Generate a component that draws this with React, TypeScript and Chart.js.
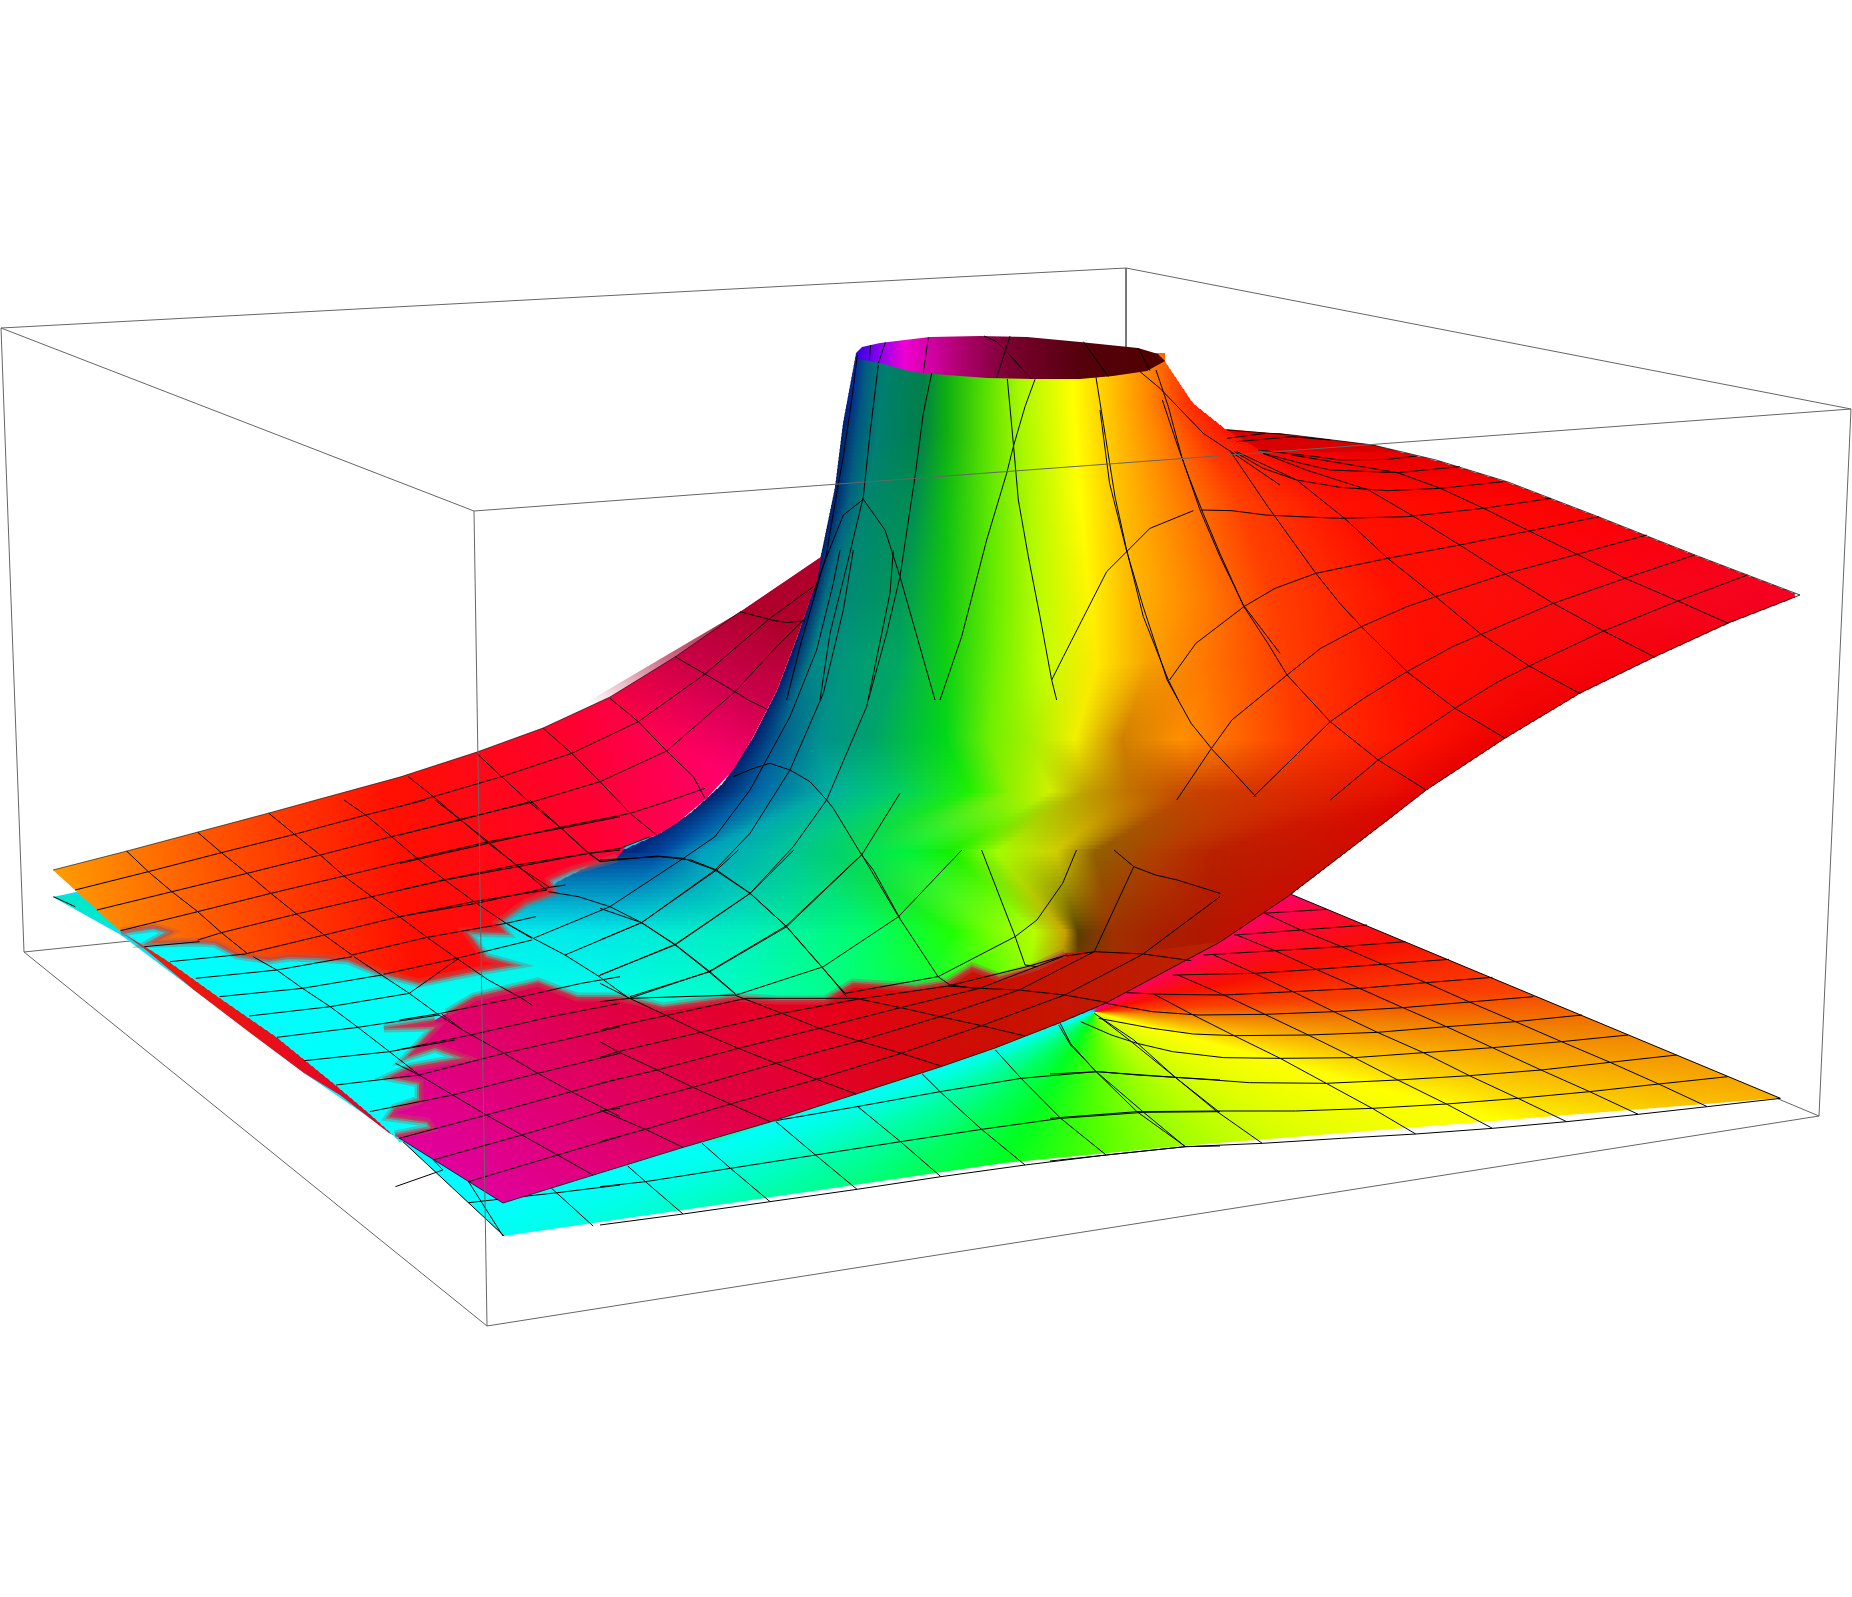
import React, { useEffect, useRef } from "react";
import { Chart, registerables } from "chart.js";
Chart.register(...registerables);

type P = number[];
const crop = (sx: number, sy: number, x0: number, y0: number) => (pts: P[]) =>
  pts.map(([x, y]) => ({ x: x / sx + x0, y: y / sy + y0 }));
const z1 = crop(3, 3, 780, 300);
const z2 = crop(2.529, 3, 0, 800);
const z3 = crop(2.529, 3, 600, 850);
const z4 = crop(2.085, 3, 1100, 400);
const z5 = crop(1.955, 3, 1050, 880);
const z6 = crop(3, 3, 400, 550);
const full = crop(1, 1, 0, 0);

// Bounding box
const boxBack: P[][] = [[[1, 328], [1126, 268], [1851, 409]], [[1126, 268], [1126, 347]], [[24, 952], [130, 941]], [[1819, 1116], [1776, 1098]]];
const boxFront: P[][] = [
  [[1, 328], [474, 511], [1851, 409], [1819, 1116], [487, 1326], [24, 952], [1, 328]],
  [[474, 511], [487, 1326]],
];

// Lower sheet
const lowerOutline: P[] = [[53, 897], [121, 935], [194, 990], [304, 1073], [399, 1138], [504, 1236], [827, 1189], [1004, 1163], [1181, 1146], [1780, 1098], [1290, 894], [1100, 900], [500, 800]];
const lowerHueAngles = [-180, -60, -31, -12.6, -3, 2, 7, 15, 30, 56, 90, 122, 139, 151, 159, 163, 180];
const lowerHueColors = ["#00e8ff", "#ff00a0", "#ff0060", "#f81000", "#f84000", "#f08000", "#f8b000", "#ffff00", "#e0ff00", "#a0ff00", "#50ff00", "#00ff20", "#00ff60", "#00ffaa", "#00ffee", "#00ffff", "#00e8ff"];
const lowerTeal: P[] = [[53, 897], [79, 895], [121, 932]];
const sliverOutline: P[] = [[121, 932], [170, 962], [219, 997], [277, 1037], [336, 1085], [368, 1112], [399, 1138], [389, 1133], [340, 1095], [304, 1073], [249, 1032], [194, 990], [146, 950]];

const lowerMeshZ5: P[][] = [
  [[415, 100], [540, 88]], [[360, 165], [490, 150], [620, 135]], [[300, 225], [440, 212], [570, 200], [695, 185]],
  [[240, 285], [400, 280], [520, 268], [650, 253], [780, 238]], [[150, 338], [220, 343], [340, 345], [475, 335], [605, 325], [735, 308], [865, 292]],
  [[110, 370], [200, 395], [290, 405], [420, 403], [555, 395], [690, 383], [820, 366], [945, 350]],
  [[95, 415], [200, 445], [280, 462], [360, 467], [505, 465], [640, 457], [775, 440], [910, 425], [1040, 405]],
  [[60, 425], [120, 465], [170, 490], [240, 515], [340, 533], [450, 535], [595, 533], [730, 518], [865, 503], [1000, 485], [1130, 465]],
  [[0, 582], [95, 575], [170, 585], [245, 592], [320, 600], [390, 608], [540, 610], [680, 600], [820, 587], [960, 570], [1095, 547], [1225, 525]],
  [[0, 715], [170, 695], [325, 693], [480, 693], [630, 685], [775, 672], [915, 655], [1055, 635], [1190, 612], [1325, 590]],
  [[20, 430], [40, 490], [90, 575], [170, 695], [265, 800]], [[100, 415], [155, 480], [245, 592], [325, 693], [415, 790]],
  [[200, 340], [280, 405], [360, 467], [450, 535], [540, 610], [630, 685], [715, 762]],
  [[250, 285], [340, 345], [420, 403], [505, 465], [595, 533], [680, 600], [775, 672], [865, 745]],
  [[320, 225], [400, 280], [475, 335], [555, 395], [640, 457], [730, 518], [820, 587], [915, 655], [1010, 725]],
  [[365, 165], [440, 212], [520, 268], [605, 325], [690, 383], [775, 440], [865, 503], [960, 570], [1055, 635], [1150, 703]],
  [[420, 100], [490, 150], [570, 200], [650, 253], [735, 308], [820, 366], [910, 425], [1000, 485], [1095, 547], [1190, 612], [1285, 680]],
  [[470, 42], [1428, 655]],
  [[0, 843], [110, 825], [265, 800], [415, 790], [570, 775], [715, 762], [865, 745], [1010, 725], [1150, 703], [1285, 680], [1428, 655]],
];
const lowerMeshZ3: P[][] = [
  [[0, 1010], [115, 995], [330, 955], [545, 915], [760, 875], [965, 838], [1165, 805], [1375, 787], [1568, 785]],
  [[430, 815], [650, 770], [860, 725], [1065, 685], [1255, 665], [1455, 682], [1568, 690]],
  [[70, 948], [115, 995], [210, 1092]], [[258, 880], [330, 955], [430, 1055]], [[445, 815], [545, 915], [650, 1018]],
  [[650, 768], [760, 875], [862, 980]], [[815, 672], [860, 725], [965, 838], [1075, 945]],
  [[1000, 600], [1065, 685], [1165, 805], [1280, 915]], [[1160, 525], [1190, 585], [1255, 665], [1375, 787], [1480, 890]],
  [[1250, 490], [1350, 570], [1455, 682], [1565, 785]],
  [[0, 1125], [210, 1092], [430, 1055], [650, 1018], [862, 980], [1075, 945], [1280, 915], [1480, 890], [1568, 888]],
];
const lowerMeshZ2: P[][] = [
  [[1185, 1145], [1272, 1308]], [[1010, 1015], [1275, 1308]], [[1098, 1082], [1120, 1110], [1000, 1160]], [[1395, 1165], [1500, 1278]],
  [[1185, 1208], [1410, 1178], [1568, 1155]], [[135, 290], [190, 320]],
];

// Sloped surface: row table of hue stops
const rowYs = [353, 403, 431, 500, 595, 660, 737, 790, 850, 930, 1000, 1140];
const rowStopX: number[][] = [
  [856, 868, 885, 925, 947, 985, 1020, 1073, 1113, 1150, 1180, 1200, 1240],
  [848, 862, 880, 922, 947, 985, 1020, 1073, 1113, 1153, 1180, 1197, 1260],
  [842, 858, 878, 920, 947, 985, 1022, 1075, 1115, 1160, 1205, 1250, 1292],
  [833, 848, 865, 915, 947, 990, 1030, 1080, 1120, 1170, 1240, 1340, 1560],
  [812, 825, 845, 900, 946, 995, 1040, 1090, 1130, 1190, 1270, 1400, 1800],
  [790, 813, 850, 900, 947, 997, 1047, 1097, 1150, 1213, 1280, 1400, 1650],
  [753, 777, 817, 867, 945, 990, 1027, 1075, 1122, 1181, 1300, 1417, 1505],
  [716, 760, 830, 900, 970, 1010, 1050, 1085, 1130, 1196, 1292, 1388, 1426],
  [633, 660, 700, 767, 833, 900, 950, 995, 1055, 1094, 1154, 1213, 1330],
  [130, 600, 758, 877, 955, 995, 1035, 1066, 1078, 1114, 1160, 1200, 1235],
  [225, 600, 700, 800, 900, 980, 1020, 1050, 1080, 1110, 1150, 1200, 1250],
  [395, 600, 700, 800, 900, 980, 1020, 1050, 1080, 1110, 1150, 1200, 1250],
];
const rowStopColor: string[][] = [
  ["#0a2a9a", "#00607f", "#007f70", "#008048", "#10b010", "#50e000", "#a8f800", "#ffff00", "#ffc000", "#ff8000", "#ff4000", "#ff2000", "#ff1000"],
  ["#00208a", "#005a80", "#007f70", "#008048", "#10b010", "#58e000", "#a8f800", "#ffff00", "#ffc000", "#ff8000", "#ff4000", "#ff2000", "#ff1000"],
  ["#00206e", "#005a80", "#007f70", "#008048", "#10b010", "#58e000", "#a8f800", "#ffff00", "#ffc000", "#ff8000", "#ff3000", "#f40000", "#e00000"],
  ["#00206e", "#006080", "#008570", "#008e50", "#10c010", "#60e800", "#b0f800", "#ffff00", "#ffc000", "#ff8800", "#ff4000", "#ff1000", "#ff0000"],
  ["#00206e", "#007080", "#008a78", "#009858", "#10c810", "#68ec00", "#bcfc00", "#fff400", "#ffb800", "#ff8800", "#ff4000", "#ff1000", "#f40024"],
  ["#00206e", "#008a88", "#009a78", "#00a860", "#10d010", "#70f000", "#c8ff00", "#ffe800", "#f8a000", "#ff7000", "#ff4000", "#ff1000", "#f4000c"],
  ["#00206e", "#005a90", "#009090", "#00a070", "#00d818", "#70f000", "#a0f000", "#f0f000", "#d08000", "#ff9000", "#ff3800", "#ff1000", "#e80000"],
  ["#00206e", "#006aa8", "#00b0a0", "#00d060", "#20f000", "#90f000", "#d0f000", "#c0a000", "#c07000", "#c84000", "#dc2800", "#e81000", "#e40000"],
  ["#002a80", "#0044a0", "#00a0c0", "#00c0a8", "#00d070", "#00f040", "#10f000", "#a0ff00", "#d0d000", "#906000", "#b04000", "#b82000", "#cc1000"],
  ["#00ffff", "#00e8e8", "#00f0b8", "#00ff60", "#20ff00", "#80ff00", "#b8ff00", "#c8a000", "#5a4000", "#a03000", "#a82000", "#b01800", "#c01000"],
  ["#00ffff", "#00ffe8", "#00ffd0", "#00ffa0", "#00ff60", "#20ff00", "#80ff00", "#a0a000", "#803000", "#a03000", "#a82000", "#b01800", "#c01000"],
  ["#00ffff", "#00ffe8", "#00ffd0", "#00ffa0", "#00ff60", "#20ff00", "#80ff00", "#a0a000", "#803000", "#a03000", "#a82000", "#b01800", "#c01000"],
];
const edgeLeft: P[] = [[353, 856], [423, 843], [487, 835], [550, 822], [593, 812], [637, 797], [690, 777], [737, 753], [783, 723], [813, 690], [833, 660], [860, 600], [880, 560], [913, 510], [930, 121], [962, 170], [997, 219], [1037, 277], [1085, 336], [1112, 368], [1140, 399]];
const edgeRight: P[] = [[353, 1165], [361, 1165], [403, 1193], [430, 1227], [433, 1280], [436, 1300], [445, 1373], [460, 1436], [482, 1508], [517, 1599], [555, 1695], [595, 1800], [623, 1728], [657, 1654], [693, 1580], [738, 1505], [790, 1426], [815, 1394], [897, 1287], [942, 1220], [1003, 1106], [1023, 1059], [1048, 995], [1095, 853], [1122, 770], [1140, 720]];
const backPatch: P[] = [[1227, 430], [1292, 435], [1373, 445], [1400, 452], [1330, 452], [1260, 450]];

// Ring at the top
const ringOutline: P[] = [[856, 353], [862, 347], [880, 343], [930, 337], [980, 336], [1027, 337], [1080, 342], [1138, 348], [1158, 354], [1165, 361], [1147, 371], [1113, 376], [1080, 379], [1033, 379], [987, 378], [947, 375], [913, 372], [880, 363], [858, 359]];
const ringX = [856, 880, 905, 960, 1010, 1080, 1165];
const ringColors = ["#3000e0", "#9000f0", "#f000d0", "#b00070", "#7a0030", "#55000c", "#500000"];

// Back left sheet
const upperEdge: P[] = [[121, 932], [154, 927], [170, 932], [150, 943], [198, 942], [215, 943], [237, 955], [269, 960], [289, 957], [316, 958], [348, 960], [380, 973], [419, 983], [467, 973], [514, 965], [486, 957], [467, 932], [506, 933], [498, 923], [526, 903], [554, 893], [550, 880], [573, 870], [617, 858]];
const towerCurve: P[] = [[627, 845], [657, 835], [677, 823], [707, 798], [733, 770], [753, 737], [777, 690], [797, 637], [817, 580], [821, 557]];
const backEdge: P[] = [[740, 612], [675, 657], [610, 697], [543, 728], [477, 752], [400, 777], [316, 800], [269, 813], [198, 832], [127, 851], [53, 870]];
const pinkShade: P[] = [[543, 728], [740, 612], [821, 557], [817, 580], [797, 637], [777, 690], [753, 737], [733, 770], [640, 790]];

// Front flap
const midEdge: P[] = [[447, 1013], [474, 997], [538, 982], [577, 997], [620, 997], [663, 1007], [734, 997], [778, 1000], [825, 1000], [853, 983], [916, 987], [948, 982], [972, 967], [999, 977], [1035, 967], [1065, 953]];
const flapRest: P[] = [[1090, 952], [1144, 952], [1220, 942], [1106, 1003], [1059, 1023], [995, 1048], [940, 1067], [853, 1095], [770, 1122], [681, 1148], [600, 1173], [503, 1203], [399, 1138]];
const flapLeft: P[] = [[395, 1135], [431, 1128], [427, 1122], [389, 1117], [395, 1108], [419, 1100], [419, 1083], [389, 1077], [411, 1067], [463, 1058], [435, 1048], [407, 1057], [435, 1027], [384, 1028], [435, 1020]];

// Mesh of the upper surface
const meshZ1: P[][] = [
  [[232, 165], [215, 300], [190, 470], [170, 580], [140, 760], [100, 900], [60, 1040], [20, 1200]],
  [[295, 195], [270, 400], [250, 590], [200, 800], [150, 1000], [120, 1200]],
  [[455, 220], [430, 340], [405, 530], [360, 830], [320, 1000], [265, 1200]],
  [[682, 237], [700, 430], [715, 600], [745, 770], [780, 950], [815, 1140], [830, 1200]],
  [[765, 238], [735, 320], [700, 440], [680, 520], [620, 720], [545, 1010], [480, 1200]],
  [[948, 232], [970, 370], [1005, 590], [1040, 750], [1090, 950], [1165, 1140], [1195, 1200]],
  [[1128, 210], [1165, 320], [1205, 470], [1260, 630], [1320, 770], [1390, 915], [1500, 1060]],
  [[1080, 215], [1140, 265], [1270, 400], [1360, 460], [1500, 555]],
  [[100, 880], [140, 770], [190, 645], [250, 598], [315, 690], [360, 830], [465, 1200]],
  [[815, 1140], [850, 1070], [980, 815], [1110, 685], [1240, 632]],
  [[272, 135], [268, 180]], [[316, 127], [295, 190]], [[445, 112], [430, 218]],
  [[612, 108], [650, 125], [680, 155], [725, 205], [755, 237]], [[690, 108], [675, 155], [650, 233]],
  [[910, 125], [985, 230]], [[1075, 145], [1110, 212]],
];
const meshZ4: P[][] = [
  [[265, 115], [345, 100]], [[285, 125], [400, 110], [480, 120]], [[330, 150], [450, 170], [500, 180], [600, 178], [660, 168]],
  [[340, 160], [420, 190], [480, 210], [620, 218], [750, 200]], [[280, 155], [340, 205], [410, 240], [500, 262], [600, 272], [710, 265], [840, 245]],
  [[210, 330], [275, 332], [345, 345], [415, 350], [500, 355], [640, 350], [800, 325], [940, 295]],
  [[145, 840], [200, 730], [300, 620], [365, 565], [450, 520], [600, 475], [750, 435], [895, 393], [1040, 350]],
  [[160, 1200], [230, 1050], [275, 960], [390, 825], [460, 745], [545, 680], [640, 620], [700, 590], [845, 522], [995, 463], [1140, 405]],
  [[320, 1190], [480, 965], [550, 895], [640, 815], [735, 740], [795, 703], [945, 610], [1095, 535], [1240, 465]],
  [[480, 1200], [580, 1080], [740, 925], [830, 845], [895, 798], [1050, 693], [1205, 603], [1350, 525]],
  [[130, 0], [160, 130], [185, 230], [215, 340], [250, 460], [300, 620], [350, 730], [390, 825], [480, 965], [580, 1080], [680, 1170]],
  [[270, 150], [350, 320], [450, 520], [500, 610], [545, 680], [640, 815], [740, 925], [845, 1015]],
  [[285, 155], [410, 240], [510, 355], [600, 475], [700, 590], [795, 703], [895, 798], [1000, 880]],
  [[340, 160], [430, 210], [560, 270], [655, 350], [750, 435], [845, 522], [945, 610], [1050, 693], [1155, 770]],
  [[400, 165], [620, 218], [710, 265], [800, 325], [895, 393], [995, 463], [1095, 535], [1205, 603], [1310, 670]],
  [[0, 30], [20, 250], [55, 450], [90, 620], [140, 840], [190, 970], [235, 1050], [325, 1190]],
];
const meshZ3: P[][] = [
  [[0, 400], [75, 445], [165, 495], [255, 547], [350, 595], [445, 640], [548, 688], [648, 732]],
  [[340, 435], [460, 490], [555, 535], [655, 573], [762, 610], [862, 648]],
  [[655, 447], [760, 473], [860, 500], [965, 527], [1075, 558]],
  [[880, 408], [960, 415], [1060, 420], [1175, 435], [1285, 458]],
  [[1180, 318], [1250, 305], [1375, 312], [1495, 332]],
  [[0, 575], [45, 605], [145, 660], [235, 712], [330, 762], [430, 815]],
  [[0, 780], [115, 838], [210, 892]],
  [[0, 875], [115, 838], [330, 762], [548, 688], [762, 610], [965, 527], [1175, 435], [1370, 315], [1568, 140]],
  [[0, 785], [235, 712], [445, 640], [655, 573], [860, 500], [1060, 420], [1250, 305], [1350, 50]],
  [[0, 700], [145, 660], [350, 595], [555, 535], [760, 473], [960, 415], [1170, 320]],
  [[0, 622], [45, 605], [255, 547], [460, 490], [655, 447], [880, 408], [1080, 350], [1180, 315]],
  [[0, 540], [165, 497], [370, 445], [655, 445]],
  [[0, 455], [75, 445], [340, 435]],
  [[0, 175], [105, 218], [190, 285], [275, 365], [345, 435]],
  [[0, 30], [150, 20], [230, 30], [295, 60], [380, 130], [470, 228], [560, 350], [620, 430]],
  [[660, 10], [700, 90], [755, 200], [855, 380], [885, 405], [950, 415]],
  [[965, 0], [1050, 260], [1075, 345], [1105, 350]],
  [[0, 270], [105, 218], [295, 60], [350, 0]], [[0, 375], [190, 285], [380, 130], [490, 0]],
  [[75, 445], [275, 365], [470, 228], [665, 10]], [[345, 435], [565, 350], [755, 200], [915, 0]],
  [[620, 430], [855, 380], [1050, 260], [1105, 210], [1170, 100], [1205, 0]],
  [[1300, 0], [1350, 50], [1405, 75], [1460, 90], [1568, 130]],
];
const meshZ2: P[][] = [
  [[1185, 1145], [1410, 1065], [1568, 1010]], [[1095, 1080], [1320, 1005], [1535, 930], [1568, 925]],
  [[1010, 1015], [1230, 945], [1445, 875], [1568, 835]], [[935, 935], [1145, 885], [1360, 820], [1568, 760]],
  [[1060, 825], [1275, 760], [1480, 705], [1568, 680]], [[1005, 750], [1190, 705], [1395, 650], [1568, 610]],
  [[1010, 660], [1115, 640], [1320, 590], [1470, 550], [1568, 530]],
  [[1115, 640], [1170, 690], [1275, 760], [1360, 820], [1445, 875], [1535, 930], [1568, 950]],
  [[1000, 790], [1060, 825], [1145, 885], [1230, 945], [1320, 1005], [1410, 1065], [1500, 1125]],
  [[365, 440], [505, 425]], [[430, 485], [620, 462]], [[495, 535], [700, 510], [890, 470]],
  [[555, 590], [765, 565], [965, 525]], [[630, 648], [835, 620], [1035, 580], [1160, 475]],
  [[700, 712], [905, 682], [1110, 645]], [[770, 782], [985, 755], [1150, 720]], [[850, 855], [1060, 825]],
  [[640, 470], [700, 510], [765, 565], [835, 620], [905, 682], [985, 755], [1060, 825]],
  [[895, 470], [965, 525], [1035, 580], [1110, 645], [1170, 690]],
  [[190, 270], [375, 215], [560, 158], [745, 103], [925, 45], [1075, 0]],
  [[245, 330], [435, 275], [625, 220], [810, 165], [990, 110], [1165, 60], [1340, 5]],
  [[305, 392], [500, 335], [685, 280], [870, 228], [1055, 175], [1235, 125], [1420, 85], [1568, 50]],
  [[500, 420], [560, 398], [750, 342], [940, 290], [1125, 240], [1310, 200], [1490, 160], [1568, 150]],
  [[620, 462], [820, 405], [1010, 350], [1205, 310], [1390, 262], [1430, 255]],
  [[890, 465], [1080, 412], [1280, 370], [1355, 350]],
  [[970, 523], [1155, 475], [1345, 420]],
  [[320, 153], [375, 215], [435, 275], [500, 335], [560, 398], [625, 460]],
  [[500, 97], [560, 158], [625, 220], [685, 280], [750, 342], [820, 405], [890, 465]],
  [[680, 40], [745, 103], [810, 165], [870, 228], [940, 290], [1010, 350], [1080, 412], [1155, 475], [1235, 540], [1320, 595], [1345, 615]],
  [[870, 0], [925, 45], [990, 110], [1055, 175], [1125, 240], [1205, 310], [1280, 370], [1345, 415]],
  [[1100, 0], [1165, 60], [1235, 125], [1310, 200], [1390, 262]],
  [[1340, 0], [1420, 85], [1490, 160], [1520, 185]],
];
const meshZ6: P[][] = [
  [[25, 680], [100, 740], [180, 808], [265, 880], [350, 945], [440, 1020]],
  [[230, 610], [305, 680], [390, 758], [480, 832], [565, 910], [600, 935]],
  [[430, 535], [515, 610], [600, 695], [690, 790], [770, 855]],
  [[630, 445], [715, 515], [800, 603], [880, 680], [915, 745]],
  [[825, 320], [915, 372], [1005, 425], [1045, 450], [1105, 480]],
  [[1020, 185], [1115, 210], [1160, 218], [1215, 212]],
  [[0, 770], [100, 740], [305, 680], [515, 610], [715, 515], [915, 372], [1110, 205], [1240, 110]],
  [[0, 855], [180, 808], [390, 758], [600, 695], [800, 603], [1005, 425], [1130, 290], [1210, 210]],
  [[0, 940], [265, 880], [480, 832], [690, 790], [800, 755], [915, 715]],
  [[0, 1020], [130, 990], [350, 945], [565, 910], [660, 895], [750, 860]],
  [[0, 1100], [220, 1055], [440, 1020]],
  [[600, 935], [700, 925], [770, 918], [850, 925], [945, 960], [1050, 1030], [1160, 1130], [1265, 1250], [1340, 1340]],
  [[445, 1025], [535, 1040], [630, 1070], [725, 1118], [825, 1183], [930, 1265], [1005, 1330]],
  [[320, 1120], [400, 1165], [495, 1215], [595, 1278], [680, 1340]],
  [[1000, 680], [1060, 655], [1110, 640], [1170, 660], [1230, 695], [1280, 750], [1300, 775], [1385, 915], [1420, 960], [1500, 1105]],
  [[400, 1165], [630, 1070], [850, 925], [945, 860], [1050, 720], [1170, 500], [1250, 300], [1300, 100], [1320, 0]],
  [[495, 1215], [725, 1118], [945, 960], [1050, 850], [1170, 660], [1270, 430], [1330, 180], [1360, 0]],
  [[595, 1278], [825, 1183], [1050, 1030], [1180, 890], [1280, 750], [1400, 470], [1470, 130], [1480, 0]],
  [[690, 1340], [930, 1265], [1160, 1130], [1385, 915], [1500, 730]],
];
const silhouette: P[] = [[1227, 430], [1292, 435], [1373, 445], [1436, 460], [1508, 482], [1599, 517], [1695, 555], [1800, 595], [1728, 623], [1654, 657], [1580, 693], [1505, 738], [1426, 790], [1394, 815], [1287, 897], [1220, 942], [1106, 1003], [1059, 1023], [995, 1048], [940, 1067], [853, 1095], [770, 1122], [681, 1148], [600, 1173], [503, 1203], [399, 1138]];

const lerp = (a: number, b: number, t: number) => a + (b - a) * t;
const along = (table: P[], y: number) => {
  for (let i = 1; i < table.length; i++) {
    if (y <= table[i][0]) {
      const t = (y - table[i - 1][0]) / Math.max(1, table[i][0] - table[i - 1][0]);
      return lerp(table[i - 1][1], table[i][1], Math.max(0, t));
    }
  }
  return table[table.length - 1][1];
};
const mixHex = (a: string, b: string, t: number) => {
  const c = (s: string, i: number) => parseInt(s.slice(i, i + 2), 16);
  const v = [1, 3, 5].map((i) => Math.round(lerp(c(a, i), c(b, i), t)));
  return `rgb(${v[0]},${v[1]},${v[2]})`;
};

export default function App() {
  const ref = useRef<HTMLCanvasElement>(null);
  useEffect(() => {
    const canvas = ref.current!;
    const g = canvas.getContext("2d")!;
    const ds: any[] = [];
    const poly = (data: any[], fillStyle: any) =>
      ds.push({ data, showLine: true, fill: "shape", backgroundColor: fillStyle, borderColor: "transparent", borderWidth: 0, pointRadius: 0, tension: 0, clip: false });
    const line = (data: any[], color = "#000", width = 1) =>
      ds.push({ data, showLine: true, fill: false, borderColor: color, borderWidth: width, pointRadius: 0, tension: 0, clip: false });
    const linear = (x0: number, y0: number, x1: number, y1: number, stops: [number, string][]) => {
      const lg = g.createLinearGradient(x0, y0, x1, y1);
      stops.forEach(([o, c]) => lg.addColorStop(o, c));
      return lg;
    };

    boxBack.forEach((p) => line(full(p), "#666"));

    const conic = g.createConicGradient(-Math.PI, 1095, 1012);
    lowerHueAngles.forEach((a, i) => conic.addColorStop((a + 180) / 360, lowerHueColors[i]));
    poly(full(lowerOutline), conic);
    poly(full(lowerTeal), "#00e8cc");
    lowerMeshZ5.forEach((p) => line(z5(p)));
    lowerMeshZ3.forEach((p) => line(z3(p)));
    lowerMeshZ2.forEach((p) => line(z2(p)));

    poly(full(sliverOutline), linear(121, 932, 399, 1138, [[0, "#f02000"], [1, "#e00030"]]));

    // sloped surface, sliced into thin rows with a horizontal hue gradient
    const step = 4;
    for (let y = rowYs[0]; y < rowYs[rowYs.length - 1]; y += step) {
      let k = 0;
      while (k < rowYs.length - 2 && y >= rowYs[k + 1]) k++;
      const t = (y - rowYs[k]) / (rowYs[k + 1] - rowYs[k]);
      const lg = g.createLinearGradient(0, 0, 1852, 0);
      let prev = 0;
      rowStopX[k].forEach((xa, j) => {
        const x = Math.max(prev, lerp(xa, rowStopX[k + 1][j], t));
        prev = x;
        lg.addColorStop(Math.min(1, x / 1852), mixHex(rowStopColor[k][j], rowStopColor[k + 1][j], t));
      });
      const y2 = y + step;
      poly(full([[along(edgeLeft, y), y], [along(edgeRight, y), y], [along(edgeRight, y2), y2 + 1], [along(edgeLeft, y2), y2 + 1]]), lg);
    }
    poly(full(backPatch), "#d80000");

    // ring
    const ringG = g.createLinearGradient(ringX[0], 0, ringX[ringX.length - 1], 0);
    ringX.forEach((x, i) => ringG.addColorStop((x - ringX[0]) / (ringX[ringX.length - 1] - ringX[0]), ringColors[i]));
    poly(full(ringOutline), ringG);

    // back-left sheet
    const sheetPts = [...upperEdge, ...towerCurve, ...backEdge];
    poly(full(sheetPts), linear(53, 870, 730, 760, [[0, "#ff9c00"], [0.25, "#ff5000"], [0.5, "#ff1000"], [0.78, "#ff0030"], [1, "#ff0070"]]));
    poly(full(pinkShade), linear(700, 760, 770, 620, [[0, "rgba(180,0,50,0)"], [0.5, "rgba(170,0,50,0.6)"], [1, "rgba(170,0,40,0.95)"]]));

    // front flap
    const flapPts = [...midEdge, ...flapRest, ...flapLeft];
    poly(full(flapPts), linear(503, 1203, 773, 843, [[0, "#e0009a"], [0.25, "#e00070"], [0.5, "#e00040"], [0.8, "#e80018"], [1, "#e01000"]]));
    poly(full(flapPts), linear(820, 0, 1220, 0, [[0, "rgba(190,16,0,0)"], [0.45, "rgba(192,16,0,0.7)"], [1, "rgba(176,40,0,0.9)"]]));

    // soft boundaries between the sheets
    [upperEdge, midEdge, flapLeft].forEach((p) => {
      line(full(p), "rgba(170,90,90,0.35)", 9);
      line(full(p), "rgba(190,70,70,0.55)", 4);
    });

    meshZ1.forEach((p) => line(z1(p)));
    meshZ4.forEach((p) => line(z4(p)));
    meshZ3.forEach((p) => line(z3(p)));
    meshZ2.forEach((p) => line(z2(p)));
    meshZ6.forEach((p) => line(z6(p)));
    line(full(silhouette), "rgba(0,0,0,0.75)");
    line(full(backEdge), "rgba(0,0,0,0.6)");

    boxFront.forEach((p) => line(full(p), "#666"));

    const chart = new Chart(canvas, {
      type: "scatter",
      data: { datasets: ds.reverse() },
      options: {
        animation: false,
        responsive: false,
        events: [],
        layout: { padding: 0 },
        plugins: { legend: { display: false }, tooltip: { enabled: false }, title: { display: false } },
        scales: {
          x: { type: "linear", min: 0, max: 1852, display: false },
          y: { type: "linear", min: 0, max: 1597, reverse: true, display: false },
        },
      },
    });
    return () => chart.destroy();
  }, []);
  return <canvas ref={ref} width={1852} height={1597} style={{ position: "absolute", left: 0, top: 0, display: "block" }} />;
}
